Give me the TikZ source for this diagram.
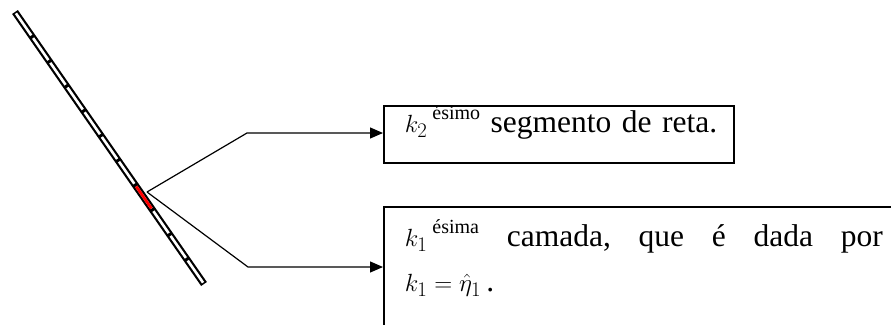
\documentclass[tikz,border=0pt]{standalone}
\usepackage{fontspec}
\setmainfont{Liberation Serif}
\usepackage{amsmath}
\usetikzlibrary{arrows.meta,positioning,calc}
\newcommand{\ordsup}[1]{\hspace{5pt}\raisebox{13pt}{\fontsize{20}{20}\selectfont #1}}

\begin{document}
\begin{tikzpicture}[x=1pt,y=-1pt,>={Triangle[length=13pt,width=11pt]},
 box/.style={draw,line width=1.5pt,align=left,inner xsep=21pt,inner ysep=0pt,
  font=\fontsize{31.5}{45}\selectfont},
 lead/.style={line width=1.2pt}]
\useasboundingbox (0,0) rectangle (891,324);
\clip (0,0) rectangle (891,324);
% strip of segments
\coordinate (top) at (15,12);
\coordinate (bot) at (204,284);
\draw[line width=7pt] (top)--(bot);
\foreach \i in {0,...,10}
 \draw[white,line width=2.6pt] ($(top)!{\i/11+0.005}!(bot)$)--($(top)!{(\i+1)/11-0.005}!(bot)$);
\draw[red,line width=2.8pt] ($(top)!{7/11+0.005}!(bot)$)--($(top)!{8/11-0.005}!(bot)$);
\coordinate (hit) at (147,192);
% boxes
\node[box,anchor=north west,text width=308pt,text height=27pt,text depth=30pt]
 (segbox) at (383,105) {\mbox{$k_2$\ordsup{ésimo} segmento de reta.}};
\node[box,anchor=north west,text width=478pt,inner ysep=13pt]
 (layerbox) at (383,206) {$k_1$\ordsup{ésima}\hfill camada,\hfill que\hfill é\hfill dada\hfill por\\
 $k_1=\hat{\eta}_1$\,.\\[20pt]\mbox{}};
\coordinate (bendA) at (247,133);
\coordinate (bendB) at (248,267);
\draw[lead,->] (hit)--(bendA)--(bendA -| segbox.west);
\draw[lead,->] (hit)--(bendB)--(bendB -| layerbox.west);
\end{tikzpicture}
\end{document}
